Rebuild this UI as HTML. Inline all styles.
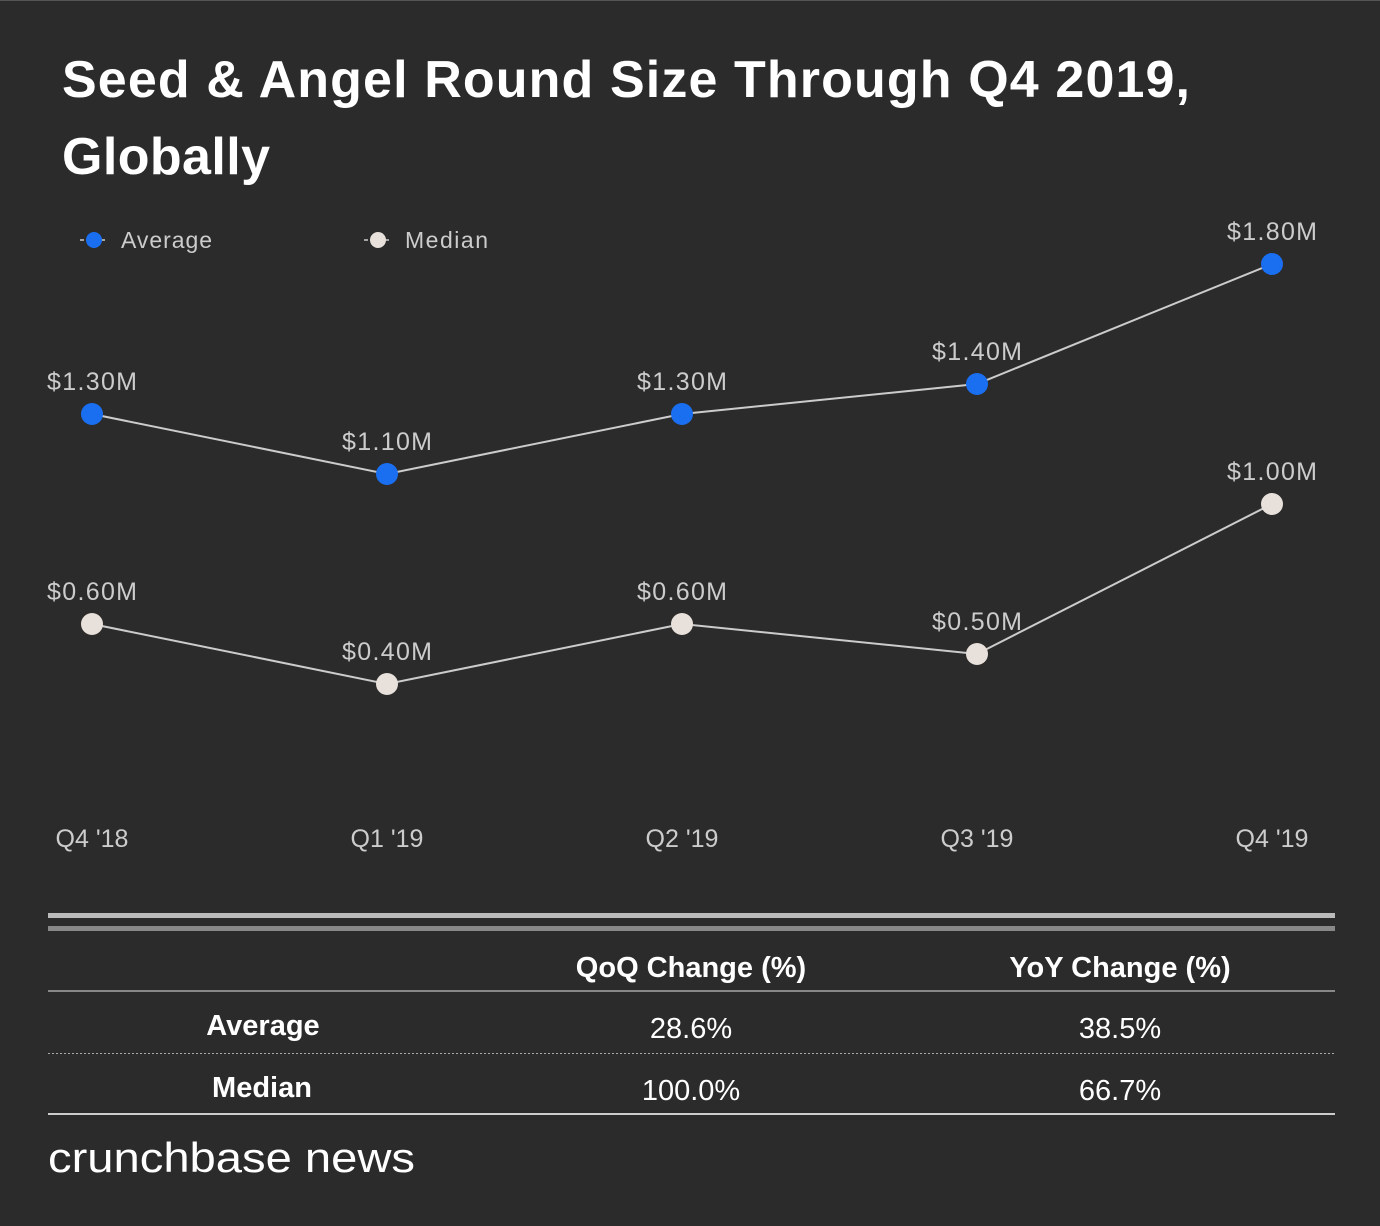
<!DOCTYPE html>
<html><head><meta charset="utf-8"><style>
body{margin:0;background:#2b2b2b;width:1380px;height:1226px;overflow:hidden;font-family:"Liberation Sans",sans-serif;}
svg{position:absolute;left:0;top:0}
</style></head><body>
<svg width="1380" height="1226">
<rect x="0" y="0" width="1380" height="1226" fill="#2b2b2b"/>
<rect x="0" y="0" width="1380" height="1" fill="#555"/>
<text x="62" y="97" fill="#fff" font-size="52" font-weight="bold" textLength="1128" lengthAdjust="spacing">Seed &amp; Angel Round Size Through Q4 2019,</text>
<text x="62" y="174" fill="#fff" font-size="52" font-weight="bold" textLength="208" lengthAdjust="spacing">Globally</text>
<g>
<line x1="80" y1="240" x2="108" y2="240" stroke="#ccc" stroke-width="1.5" stroke-dasharray="4,3"/>
<circle cx="94" cy="240" r="8" fill="#1a6ff0"/>
<text x="121" y="248" fill="#ccc" font-size="23" textLength="91">Average</text>
<line x1="364" y1="240" x2="392" y2="240" stroke="#ccc" stroke-width="1.5" stroke-dasharray="4,3"/>
<circle cx="378" cy="240" r="8" fill="#e8e0da"/>
<text x="405" y="248" fill="#ccc" font-size="23" textLength="83">Median</text>
</g>
<g id="plot"></g>
<g>
<rect x="48" y="913" width="1287" height="5" fill="#bbb"/>
<rect x="48" y="926" width="1287" height="5" fill="#888"/>
<text x="691" y="977" fill="#fff" font-size="29" font-weight="bold" text-anchor="middle">QoQ Change (%)</text>
<text x="1120" y="977" fill="#fff" font-size="29" font-weight="bold" text-anchor="middle">YoY Change (%)</text>
<rect x="48" y="990" width="1287" height="2" fill="#888"/>
<text x="263" y="1035" fill="#fff" font-size="29" font-weight="bold" text-anchor="middle">Average</text>
<text x="691" y="1038" fill="#fff" font-size="29" text-anchor="middle">28.6%</text>
<text x="1120" y="1038" fill="#fff" font-size="29" text-anchor="middle">38.5%</text>
<line x1="48" y1="1053.5" x2="1335" y2="1053.5" stroke="#aaa" stroke-width="1" stroke-dasharray="2,2"/>
<text x="262" y="1097" fill="#fff" font-size="29" font-weight="bold" text-anchor="middle">Median</text>
<text x="691" y="1100" fill="#fff" font-size="29" text-anchor="middle">100.0%</text>
<text x="1120" y="1100" fill="#fff" font-size="29" text-anchor="middle">66.7%</text>
<rect x="48" y="1113" width="1287" height="2" fill="#ccc"/>
</g>
<text x="48" y="1172" fill="#fff" font-size="42" textLength="367" lengthAdjust="spacingAndGlyphs">crunchbase news</text>
</svg>
<script>
const categories=["Q4 '18","Q1 '19","Q2 '19","Q3 '19","Q4 '19"];
const averageValues=[1.3,1.1,1.3,1.4,1.8];
const medianValues=[0.6,0.4,0.6,0.5,1.0];
const NS="http://www.w3.org/2000/svg";
const g=document.getElementById('plot');
function xs(i){return 92+i*295;}
function ys(v){return 804-300*v;}
function mk(t,a){const e=document.createElementNS(NS,t);for(const k in a)e.setAttribute(k,a[k]);g.appendChild(e);return e;}
function series(vals,color,name){
  const p=mk('polyline',{points:vals.map((v,i)=>xs(i)+','+ys(v)).join(' '),fill:'none',stroke:'#ccc','stroke-width':2});
  
  
  vals.forEach((v,i)=>{
    const c=mk('circle',{cx:xs(i),cy:ys(v),r:11,fill:color});
    
    
    const t=mk('text',{x:xs(i),y:ys(v)-24,fill:'#ccc','font-size':25,'text-anchor':'middle',textLength:90});
    t.textContent='$'+v.toFixed(2)+'M';
    
    
  });
}
series(averageValues,'#1a6ff0','average');
series(medianValues,'#e8e0da','median');
categories.forEach((c,i)=>{
  const t=mk('text',{x:xs(i),y:847,fill:'#ccc','font-size':25,'text-anchor':'middle'});
  t.textContent=c;
  
  
});
</script>
</body></html>
